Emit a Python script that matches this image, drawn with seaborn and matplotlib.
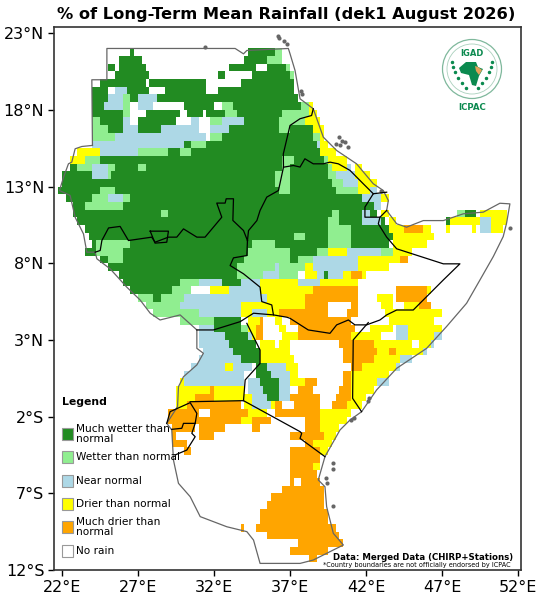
import re
import numpy as np
import pandas as pd
import matplotlib.pyplot as plt
import seaborn as sns
from matplotlib.colors import ListedColormap
from matplotlib.patches import Circle, Polygon, Rectangle

# categories
class_codes = [".", "W", "w", "n", "d", "D"]
class_colors = ["#FFFFFF", "#228B22", "#90EE90", "#ADD8E6", "#FFFF00", "#FFA500"]
legend_labels = ["Much wetter than\nnormal", "Wetter than normal", "Near normal",
                 "Drier than normal", "Much drier than\nnormal", "No rain"]
legend_order = [1, 2, 3, 4, 5, 0]

# rainfall class by longitude span, one row per half degree of latitude, 22N going south
rain_rows = [
    "W26.4-26.8 W34.3-36 w36-36.6",
    "W25.8-27.3 W33.9-35.5 w35.5-36.6",
    "W24.9-25.5 W25.8-27.6 W33-34.8 W35.4-36.8 w36.8-37.1",
    "W25.5-27.7 W32.3-32.8 W34.6-37 w37-37.2",
    "W24.5-27.4 W27.8-31.6 W33.7-37.2",
    "W24.1-24.9 n25.5-26.3 W26.3-27.8 W28.7-31.4 W32.3-37.3",
    "W24.1-25 n25-26 w26-26.4 W26.4-27.1 n27.1-28.3 W28.3-37.4 w37.4-37.6",
    "W24.1-24.8 n24.8-26 w26-26.6 n27.1-28 W29.9-32 w32.6-33.2 W33.2-37.8 w37.8-38.2 d38.2-38.5",
    "W24.1-24.5 W24.6-26 w26-26.5 W27.5-29.7 W30.3-31.2 W31.6-32.7 w32.7-33.4 W33.4-36.5 w36.5-38.2 d38.2-38.8",
    "w24.1-24.6 W24.6-26 n26-26.5 W27-29.5 n30.5-31 w31.8-32.6 n32.6-34 W34-36.3 w36.3-38.1 d38.1-39",
    "w24.1-25 W25-26 n26-27.1 W27.1-28.5 n28.5-31 n31.7-33 W33-36.2 w36.2-37 W37-38.5 d38.5-39.2",
    "w24.1-25.5 n25.5-29 n29-31.5 w31.7-32.5 W32.5-38.6 w38.6-39 d39-39.3",
    "n24-29.9 W29.9-30.5 w30.5-31.5 W31.5-38.8 n38.8-39 d39-39.6",
    "d22.9-24.5 n24.5-27 w27-29 W29-29.8 w29.8-30.5 W30.5-39.1 d39.1-40",
    "d22.5-23.5 w23.5-24.5 W24.5-36.5 w36.5-37.2 W37.2-39.3 w39.3-39.6 d39.6-40.7",
    "W22.4-23 w23-24 n24-25 w25-25.5 W25.5-27 w27-27.5 W27.5-36.5 w36.5-37 W37-39.4 w39.4-39.7 d39.7-40.7 n40.7-41 d41.2-41.8",
    "W22.1-24 n24-25 w25-25.3 W25.3-36 w36-37 W37-39.5 w39.5-40 n40-41.3 d41.3-42.2",
    "W21.9-36 w36-37.1 W37.1-39.7 w39.7-40.4 n40.4-41.5 d41.5-42.7",
    "W21.7-24.5 w24.5-25.5 W25.5-36.2 w36.2-37 W37-40 w40-41.4 d41.4-42.2 n42.2-42.7",
    "W22.2-23.9 w23.9-25 n25-26 w26-26.5 W26.5-41.8 n41.8-42.9 d42.9-43.5",
    "W22.8-23.5 w23.5-26 W26-42.5 n42.5-43",
    "W22.8-28.5 w28.5-28.9 W28.9-39.8 w39.8-40.3 W40.3-41.8 n41.8-42.2 W42.2-42.7 d43-43.4 w48-48.5 W48.5-49.2 d49.5-51.2",
    "W23-39.6 w39.6-40.3 W40.3-41.8 n41.8-42.9 W42.9-43.3 d43.6-44 W47.2-47.6 d47.6-49.5 n49.5-50.3 d50.3-51.2",
    "W23.5-39.6 w39.6-41 W41-43.4 d43.6-44.6 D44.6-45.7 d45.7-46.3 d47.2-47.4 d48.9-49.3 n49.6-50.3 d50.3-51",
    "W23.8-37.2 w37.2-38 W38-39.6 w39.6-41 W41-43.8 d43.8-46.4",
    "W23.9-24.3 w24.3-26.4 W26.4-34.6 w34.6-36 W36-39.6 w39.6-40.9 W40.9-43.6 d43.8-46",
    "W23.5-24.3 w24.3-26 W26-34.3 w34.3-37 W37-38.7 w38.7-39.6 d39.6-40.7 n40.7-43 w43-43.8 d43.8-45.1",
    "W24.5-25 w24.9-26 W26-34 w34-37 W37-37.4 w37.4-38.5 n38.5-41.6 d41.6-44.2 D44.2-44.8",
    "W25-33.5 w33.5-36 n36-36.3 w36.3-37.9 d38.1-38.5 n38.5-41.4 d41.4-43.4",
    "W25.7-33.5 w33.5-35.3 n35.3-36.3 w36.3-37.6 d37.9-38.7 n38.7-39.2 W39.2-39.6 n39.6-40.5 d40.5-41 D41-41.8 d41.8-42",
    "W26-29.8 w29.8-31 n31-32.6 W32.6-33.7 n33.7-35 d35-37.4 n37.4-39.1 d39.1-41.6",
    "W26.5-29.3 w29.3-30.4 d31.8-32.9 n32.9-35 d35-38.5 D38.5-41.6 D44-46 d46-46.3",
    "w26.9-28 W28-28.5 w28.5-30 n30-35.5 d35.5-38 D38-41.4 d42.7-43.8 D44-46",
    "w27.6-29.7 n29.7-33.7 d33.7-37.9 D37.9-39.6 D41-41.6 d42.9-43.8 d44.5-45.6 D45.6-46.2",
    "w28-31 n31-33.7 d33.7-34.6 n34.6-35.5 d35.5-36.3 D36.3-39.6 D40.7-41.6 d43.3-47",
    "w29.8-31.9 W31.9-33.7 d34.2-35 D35-35.3 d36-36.4 D37-41 d43.6-46.6",
    "n30.9-32 W32-33.7 w33.7-34.2 d34.2-34.8 D34.8-35.3 d36.3-36.8 D37.6-41.2 d42.3-43.8 n44-44.8 d44.8-47.1",
    "n30.9-32.8 W32.8-34.2 n34.2-34.6 d34.6-34.8 D34.8-35.3 d36.4-37.4 D37.4-41 d41-43 n44-44.8 d44.8-46.6 n46.6-47",
    "n30.9-33 W33-34.8 d35-36 d36.3-37 D40.3-42.5 d42.5-44.9 d45.5-46.2 n46.2-46.6",
    "n31.3-33.3 W33.3-35 d35-37 D40.5-42.7 d42.7-43.4 D43.4-43.9 d43.9-45.8 n45.8-46.1",
    "n31-33.7 W33.7-35 d35-37.2 D40.5-42.5 d42.5-44.2 n44.2-45.1",
    "n30.4-32.8 d32.8-33.2 n33.2-34.6 W34.8-35.4 n35.6-36.8 d36.8-37.4 D41-41.8 d41.8-43.9 n43.9-44.3",
    "n30-33.9 W34.8-35.7 n35.7-36.9 d36.9-37.4 D40.4-41.1 d41.1-43.4",
    "d29.8-30 n30-33.9 n34.2-35 W35-36.3 n36.3-37 d37-37.9 D37.9-38.7 D40.5-41 d41-42.7 n42.7-43.4",
    "d29.6-31.7 D31.7-32 d32-33.9 n34.2-35.3 W35.3-36.3 n36.3-36.9 d36.9-37 D37.6-38.5 D40.3-41 d41-42.5",
    "d29.6-30.7 D30.7-32 d32-34.4 n34.4-35.5 W35.5-36.3 n36.3-36.9 D37.1-39 D40-41 d41-42",
    "d29.6-30.2 D30.2-33.7 d33.9-34.4 n34.4-35.7 d35.7-36 D36-36.6 D37.2-39 D39.8-40.7 d40.7-41.7",
    "D29-31 D31.7-34.2 d34.2-35.5 D36-39 d39-41",
    "D28.9-33.7 d33.7-34.4 D34.4-35.7 D37.9-39 d39-40.7",
    "D29.2-30.8 D31-32.8 D34.6-35 D37.9-39.1 d39.1-40.3",
    "D29.3-29.6 D30.9-32 D36.9-39.2 d39.2-40",
    "D29.3-30.2 D37.9-38.5 d38.5-39.8",
    "D30-30.4 D36.9-39 d39-39.4",
    "D36.9-39.1",
    "D36.9-38.5 d38.5-39",
    "D37-38.7",
    "D36.9-37.2 D37.7-38.9",
    "D36.6-37.7 D37.7-39.2",
    "D35.7-39.2",
    "D35.5-39.3",
    "D35-39.4",
    "D34.9-39.6",
    "D33.7-34.1 D34.8-40",
    "D35.5-40.3",
    "D37.6-40.5",
    "D37-39.6",
    "D38.3-38.7",
    "",
]

# boundaries as lon, lat
outline = [(24.0, 15.68), (23.3, 15.61), (22.86, 15.46), (22.64, 14.59), (22.42, 14.48), (22.1, 13.61),
           (21.83, 12.74), (22.53, 12.42), (22.86, 11.0), (23.41, 9.91), (23.63, 8.72), (24.18, 8.72),
           (24.29, 8.29), (25.17, 7.63), (26.26, 6.44), (27.14, 5.6), (27.8, 4.74), (28.45, 4.3),
           (29.77, 4.63), (30.87, 3.65), (30.87, 2.45), (31.3, 2.13), (30.87, 1.37), (29.99, 0.6),
           (29.66, -0.05), (29.6, -1.35), (28.89, -2.44), (29.22, -2.87), (29.33, -4.83), (29.66, -6.35),
           (30.43, -7.22), (31.09, -8.52), (32.84, -9.18), (34.16, -9.5), (34.6, -10.05), (35.03, -11.57),
           (36.35, -11.57), (37.66, -11.57), (38.53, -11.35), (40.51, -10.37), (39.85, -9.61), (39.41, -7.87),
           (39.3, -6.57), (38.86, -6.13), (39.3, -4.61), (40.29, -2.87), (40.95, -2.22), (41.71, -1.68),
           (42.7, -0.26), (44.02, 1.15), (45.99, 2.45), (47.3, 3.87), (48.62, 5.39), (49.5, 6.91),
           (50.38, 8.44), (51.03, 9.74), (51.25, 10.61), (51.47, 11.87), (50.81, 11.91), (49.72, 11.33),
           (48.4, 11.22), (47.09, 10.78), (45.77, 10.78), (44.67, 10.35), (44.02, 10.57), (43.36, 11.44),
           (43.47, 12.09), (43.14, 12.74), (42.48, 13.18), (41.38, 14.48), (40.07, 15.35), (39.19, 16.22),
           (38.53, 18.07), (37.66, 18.72), (37.33, 20.57), (37.0, 21.66), (36.89, 22.0), (34.16, 21.87),
           (33.94, 21.65), (33.39, 22.0), (24.95, 22.0), (24.95, 19.96), (23.96, 19.96), (24.0, 15.68)]
sudan_south = [(24.18, 8.72), (24.51, 8.83), (24.62, 9.48), (25.06, 10.3), (25.82, 10.4), (26.37, 9.48),
               (27.14, 9.59), (27.9, 9.7), (28.12, 9.37), (29.0, 9.7), (29.55, 9.7), (29.99, 10.24),
               (30.87, 9.7), (31.41, 9.7), (32.51, 11.0), (32.18, 11.92), (32.73, 11.92), (32.8, 12.2),
               (33.28, 12.2), (33.24, 10.79), (33.94, 10.13), (34.2, 9.48)]
abyei = [(27.8, 10.09), (29.0, 10.09), (28.89, 9.37), (28.12, 9.31), (27.8, 10.09)]
ethiopia_south = [(34.2, 9.48), (34.16, 8.5), (33.28, 8.35), (33.06, 7.85), (33.94, 7.31), (35.03, 6.44),
                  (35.14, 5.5), (35.8, 5.28), (35.91, 4.63), (36.79, 4.48), (37.0, 4.41), (38.2, 3.65),
                  (39.63, 3.43), (40.07, 3.98), (40.84, 4.3), (41.27, 3.98), (42.04, 3.98), (42.92, 4.3),
                  (43.36, 4.63), (44.02, 4.95), (45.11, 4.95), (47.09, 6.91), (48.18, 7.96), (47.09, 7.96),
                  (44.02, 8.94), (43.36, 9.7), (42.81, 10.57), (42.92, 11.0), (41.93, 11.0), (41.93, 11.66),
                  (42.48, 12.53), (43.36, 12.63)]
djibouti_east = [(42.92, 11.0), (43.36, 11.44)]
eritrea_south = [(42.48, 12.53), (41.82, 13.18), (40.95, 14.05), (40.18, 14.48), (39.63, 14.59), (39.19, 14.48),
                 (38.53, 14.48), (37.98, 14.81), (37.66, 14.27), (37.22, 14.37), (36.57, 14.26)]
sudan_east = [(34.2, 9.48), (34.27, 10.13), (34.82, 10.78), (35.03, 11.44), (35.47, 12.31), (36.24, 12.74),
              (36.57, 14.26), (36.56, 15.13), (37.0, 16.98), (37.66, 17.42), (38.42, 17.63), (38.53, 18.07)]
kenya_somalia = [(42.15, 4.13), (41.16, 3.0), (41.12, -0.81), (41.71, -1.68)]
south_sudan_south = [(30.87, 3.65), (31.96, 3.65), (33.72, 4.19), (34.6, 4.74), (35.91, 4.63)]
uganda_kenya = [(34.16, 4.08), (35.03, 2.34), (35.03, 1.47), (34.05, 0.39), (33.94, -0.96)]
tanzania_north = [(30.43, -1.03), (33.94, -0.96), (37.66, -2.98), (37.77, -3.09), (37.66, -3.42), (39.3, -4.61)]
rwanda = [(28.89, -2.44), (29.11, -1.68), (30.43, -1.09), (30.87, -1.79), (30.76, -2.44), (29.99, -2.44),
          (29.88, -2.76), (29.22, -2.83)]
burundi = [(30.76, -2.44), (30.54, -3.09), (30.76, -3.31), (30.21, -4.18), (29.44, -4.5)]
black_lines = [sudan_south, abyei, ethiopia_south, djibouti_east, eritrea_south, sudan_east, kenya_somalia,
               south_sudan_south, uganda_kenya, tanzania_north, rwanda, burundi]

island_lon = [36.2, 36.3, 36.6, 36.8, 31.4, 37.7, 37.8, 40.0, 40.2, 40.4, 40.3, 40.6, 40.8, 39.8, 39.85, 39.4, 39.45,
              39.85, 41.0, 41.2, 42.1, 42.2, 43.0, 51.5]
island_lat = [22.8, 22.7, 22.5, 22.3, 22.1, 19.2, 19.0, 15.8, 16.2, 16.0, 15.7, 15.9, 15.6, -5.0, -5.4, -6.0, -6.3,
              -7.8, -2.2, -2.1, -1.0, -0.8, 12.7, 10.3]

lon_ticks = [22, 27, 32, 37, 42, 47, 52]
lat_ticks = [23, 18, 13, 8, 3, -2, -7, -12]
lon_labels = ["22°E", "27°E", "32°E", "37°E", "42°E", "47°E", "52°E"]
lat_labels = ["23°N", "18°N", "13°N", "8°N", "3°N", "2°S", "7°S", "12°S"]

LON_START, LON_STEP = 21.5, 0.25
LAT_START, LAT_STEP = 22.0, 0.5
n_cols = int((52.25 - LON_START) / LON_STEP)


def x_pos(lon):
    return (np.asarray(lon) - LON_START) / LON_STEP


def y_pos(lat):
    return (LAT_START - np.asarray(lat)) / LAT_STEP


grid = np.zeros((len(rain_rows), n_cols), dtype=int)
for i, row in enumerate(rain_rows):
    for code, lo, hi in re.findall(r"([WwndD])([\d.]+)-([\d.]+)", row):
        a, b = int(round(x_pos(float(lo)))), int(round(x_pos(float(hi))))
        grid[i, a:b] = class_codes.index(code)

fig = plt.figure(figsize=(5.47, 6.0), dpi=100)
W, H = 547.0, 600.0
ax = fig.add_axes([54 / W, 1 - 570 / H, (521 - 54) / W, (570 - 27) / H])

sns.heatmap(pd.DataFrame(grid), ax=ax, cmap=ListedColormap(class_colors), vmin=-0.5, vmax=5.5,
            cbar=False, xticklabels=False, yticklabels=False, square=False)
ax.set_aspect("auto")
ax.set_xlim(x_pos(21.47), x_pos(52.2))
ax.set_ylim(y_pos(-12), y_pos(23.4))

for spine in ax.spines.values():
    spine.set_visible(True)
    spine.set_color("#333333")
    spine.set_linewidth(1.2)

ax.set_xticks(x_pos(lon_ticks))
ax.set_xticklabels(lon_labels, rotation=0, fontsize=11.5)
ax.set_yticks(y_pos(lat_ticks))
ax.set_yticklabels(lat_labels, rotation=0, fontsize=11.5)
ax.tick_params(length=4, width=1, pad=3)
ax.set_xlabel("")
ax.set_ylabel("")

ax.scatter(x_pos(island_lon), y_pos(island_lat), s=9, color="#666666", linewidths=0, zorder=3)
pts = np.array(outline)
ax.plot(x_pos(pts[:, 0]), y_pos(pts[:, 1]), color="#666666", lw=0.9, zorder=4)
for seg in black_lines:
    pts = np.array(seg)
    ax.plot(x_pos(pts[:, 0]), y_pos(pts[:, 1]), color="black", lw=0.9, zorder=5)

fig.text(286 / W, 1 - 15 / H, "% of Long-Term Mean Rainfall (dek1 August 2026)", ha="center", va="center",
         fontsize=11.7, fontweight="bold")

# legend
fig.text(62 / W, 1 - 402 / H, "Legend", fontsize=7.8, fontweight="bold", va="center")
for k, idx in enumerate(legend_order):
    yc = 434 + k * 23.3
    fig.add_artist(Rectangle((62 / W, 1 - (yc + 6) / H), 11 / W, 12 / H, transform=fig.transFigure,
                             facecolor=class_colors[idx], edgecolor="#999999", lw=0.8))
    fig.text(76 / W, 1 - yc / H, legend_labels[k], fontsize=7.6, va="center", linespacing=1.05, zorder=6)

fig.text(513 / W, 1 - 557 / H, "Data: Merged Data (CHIRP+Stations)", ha="right", va="center", fontsize=6.2,
         fontweight="bold")
fig.text(511 / W, 1 - 564.5 / H, "*Country boundaries are not officially endorsed by ICPAC", ha="right",
         va="center", fontsize=4.7)

# logo
logo = fig.add_axes([440 / W, 1 - 116 / H, 64 / W, 78 / H])
logo.set_xlim(0, 64)
logo.set_ylim(78, 0)
logo.axis("off")
green = "#0B8A4F"
logo.add_patch(Circle((32, 31), 29.5, fill=False, edgecolor="#7FB89C", lw=0.9))
logo.add_patch(Circle((32, 31), 25, fill=False, edgecolor="#A9D0BC", lw=0.6))
logo.text(32, 16, "IGAD", color=green, fontsize=6, fontweight="bold", ha="center", va="center")
logo.text(32, 69, "ICPAC", color=green, fontsize=6.2, fontweight="bold", ha="center", va="center")
logo.add_patch(Polygon([(19, 30), (26, 24), (36, 24), (38, 29), (43, 31), (39, 38), (36, 48), (32, 47), (29, 37), (21, 35)],
                       facecolor=green, edgecolor="none"))
logo.add_patch(Polygon([(35, 28), (38, 29), (42, 32), (39, 37), (36, 33)], facecolor="#E5A25B", edgecolor="none"))
for t in np.linspace(0, 1, 6):
    logo.plot(12 + 4 * t + 10 * t * t, 24 + 26 * t, marker="o", ms=1.5, color=green)
    logo.plot(52 - 4 * t - 10 * t * t, 24 + 26 * t, marker="o", ms=1.5, color=green)

fig.savefig("out.png", dpi=100)
